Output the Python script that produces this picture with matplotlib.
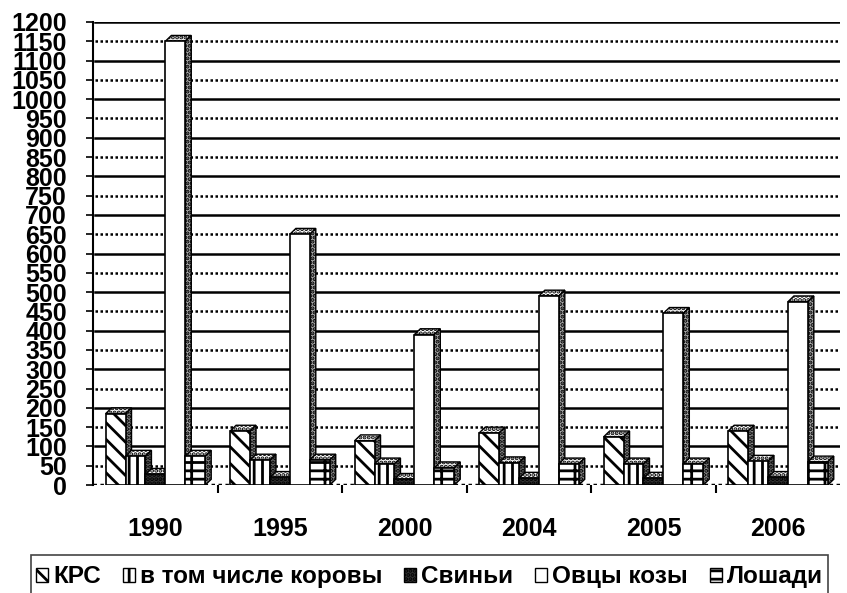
import matplotlib.pyplot as plt
from matplotlib.patches import Polygon, Rectangle

years = ['1990', '1995', '2000', '2004', '2005', '2006']
krs = [185, 140, 115, 135, 125, 140]
cows = [75, 65, 55, 58, 55, 62]
pigs = [28, 20, 15, 18, 18, 20]
sheep = [1150, 650, 390, 490, 445, 475]
horses = [75, 65, 45, 55, 55, 60]

names = ['КРС', 'в том числе коровы', 'Свиньи', 'Овцы козы', 'Лошади']
series = [krs, cows, pigs, sheep, horses]
hatches = ['\\\\', '||', '....', '', '-+']
facecol = ['white', 'white', '#333333', 'white', 'white']
sidecol = ['#888888', '#666666', '#222222', '#aaaaaa', '#888888']

plt.rcParams['font.family'] = ['Liberation Sans', 'DejaVu Sans']
plt.rcParams['hatch.linewidth'] = 2.0

fig = plt.figure(figsize=(8.47, 5.93), dpi=100)
ax = fig.add_axes([0.110, 0.182, 0.882, 0.781])

w = 0.16
dx = 0.048
dy = 15

# gridlines on back wall
for i, v in enumerate(range(50, 1201, 50)):
    ls = '-' if i % 2 else (0, (1, 1))
    ax.plot([-0.5 + dx * 0.3, 5.5], [v, v], color='black', lw=1.8, ls=ls, zorder=0)
ax.plot([-0.5, 5.5], [0, 0], color='black', lw=2.5, ls=(0, (1, 1)), zorder=0)

for s, vals in enumerate(series):
    for i, v in enumerate(vals):
        x0 = i - 0.4 + s * w
        z = 2 + s * 0.01
        ax.add_patch(Polygon([(x0, v), (x0 + dx, v + dy), (x0 + w + dx, v + dy), (x0 + w, v)],
                             facecolor='white', edgecolor='black', hatch='....', lw=1, zorder=z))
        ax.add_patch(Polygon([(x0 + w, 0), (x0 + w + dx, dy), (x0 + w + dx, v + dy), (x0 + w, v)],
                             facecolor=sidecol[s], edgecolor='black', hatch='....', lw=1, zorder=z))
        ax.add_patch(Rectangle((x0, 0), w, v, facecolor=facecol[s], edgecolor='black',
                               hatch=hatches[s], lw=1.2, zorder=z + 0.005))

ax.set_xlim(-0.5, 5.5)
ax.set_ylim(0, 1200)
ax.set_yticks(range(0, 1201, 50))
ax.set_yticklabels([str(v) for v in range(0, 1201, 50)], fontsize=18, fontweight='bold')
ax.tick_params(axis='y', length=5, width=1.2, pad=14)
ax.set_xticks(range(len(years)))
ax.set_xticklabels(years, fontsize=18, fontweight='bold')
ax.set_xticks([k + 0.5 for k in range(5)], minor=True)
ax.tick_params(axis='x', which='major', length=0, pad=23)
ax.tick_params(axis='x', which='minor', length=6, width=1.5)
for side in ['top', 'right', 'bottom']:
    ax.spines[side].set_visible(False)
ax.spines['left'].set_linewidth(1.5)

# legend box running off the bottom edge, as in the reference
fig.patches.append(Rectangle((0.0366, -0.02), 0.941, 0.084, transform=fig.transFigure,
                             facecolor='none', edgecolor='#444444', lw=1.2))
handles = [Rectangle((0, 0), 1, 1, facecolor=facecol[s], edgecolor='black', hatch=hatches[s])
           for s in range(5)]
leg = fig.legend(handles, names, loc='center', bbox_to_anchor=(0.507, 0.027),
                 ncol=5, frameon=False,
                 prop={'weight': 'bold', 'size': 17.5},
                 handlelength=0.5, handleheight=0.5, handletextpad=0.2, columnspacing=0.9,
                 borderaxespad=0, borderpad=0)

fig.savefig('out.png', dpi=100)
